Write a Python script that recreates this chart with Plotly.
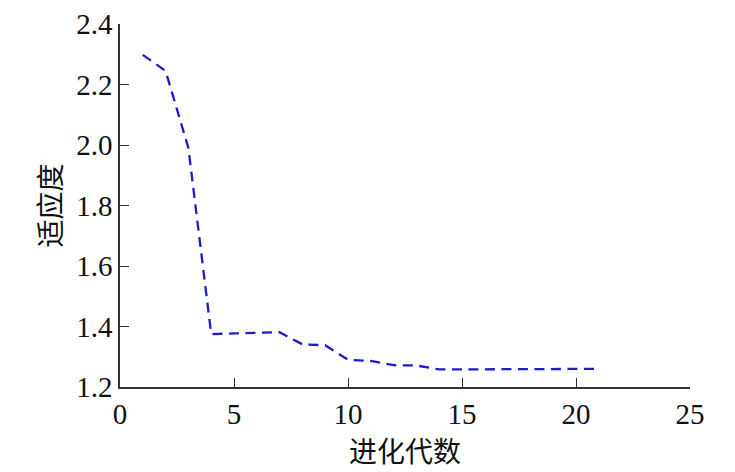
import plotly.graph_objects as go

generations = [1, 2, 3, 4, 5, 6, 7, 8, 9, 10, 11, 12, 13, 14, 15, 16, 17, 18, 19, 20, 21]
fitness = [2.298, 2.245, 1.99, 1.375, 1.377, 1.378, 1.381, 1.341, 1.338, 1.290, 1.286,
           1.272, 1.271, 1.258, 1.258, 1.258, 1.259, 1.259, 1.259, 1.259, 1.260]
x_ticks = [0, 5, 10, 15, 20, 25]
y_ticks = [1.2, 1.4, 1.6, 1.8, 2.0, 2.2, 2.4]
y_tick_text = ["1.2", "1.4", "1.6", "1.8", "2.0", "2.2", "2.4"]

font_family = "Liberation Serif, Times New Roman, Noto Sans CJK SC, serif"
cjk_family = "Noto Sans CJK SC"

fig = go.Figure()
fig.add_trace(go.Scatter(
    x=generations, y=fitness, mode="lines",
    line=dict(color="#1c1ccc", width=2.3, dash="10px,6.5px"),
    showlegend=False,
))

fig.update_layout(
    width=727, height=464,
    margin=dict(l=112, r=45, t=16, b=85, autoexpand=False),
    paper_bgcolor="white", plot_bgcolor="white",
    font=dict(family=font_family, size=29, color="#111111"),
    xaxis=dict(
        range=[0, 25], tickvals=x_ticks, showgrid=False, zeroline=False,
        showline=True, linecolor="#333333", linewidth=1.5,
        ticks="inside", ticklen=9, tickcolor="#333333", tickwidth=1.2,
        tickfont=dict(family=font_family, size=29), automargin=False,
        title=dict(text="进化代数", font=dict(family=cjk_family, size=28), standoff=2),
    ),
    yaxis=dict(
        range=[1.2, 2.4], tickvals=y_ticks, ticktext=y_tick_text, showgrid=False, zeroline=False,
        showline=True, linecolor="#333333", linewidth=1.5,
        ticks="inside", ticklen=9, tickcolor="#333333", tickwidth=1.2,
        tickfont=dict(family=font_family, size=29), automargin=False,
        title=dict(text="适应度", font=dict(family=cjk_family, size=28), standoff=6),
    ),
)

fig.write_html("out.html")
